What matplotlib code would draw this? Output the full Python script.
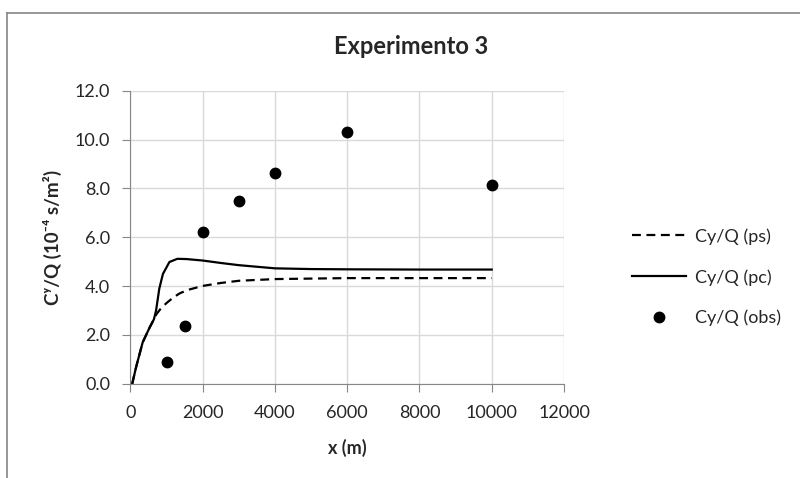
"""Experimento 3: Cy/Q ratio along the downwind distance."""

import matplotlib

matplotlib.use("Agg")
import matplotlib.pyplot as plt
from matplotlib.lines import Line2D

x_pc = [50, 160, 340, 530, 650, 710, 800, 900, 1080, 1300, 1550, 2000,
        2500, 3000, 4000, 5000, 6000, 8000, 10000]
y_pc = [0.0, 0.7, 1.7, 2.3, 2.64, 3.0, 3.9, 4.5, 4.99, 5.12, 5.11, 5.05,
        4.95, 4.86, 4.73, 4.70, 4.69, 4.68, 4.68]

x_ps = [50, 160, 340, 530, 650, 720, 850, 1000, 1200, 1370, 1600, 2000,
        2500, 3000, 4000, 5000, 6000, 8000, 10000]
y_ps = [0.0, 0.7, 1.7, 2.3, 2.64, 2.85, 3.1, 3.31, 3.55, 3.71, 3.85, 4.01,
        4.13, 4.22, 4.29, 4.31, 4.33, 4.33, 4.33]

x_obs = [1000, 1500, 2000, 3000, 4000, 6000, 10000]
y_obs = [0.9, 2.35, 6.2, 7.5, 8.65, 10.3, 8.15]

x_ticks = [0, 2000, 4000, 6000, 8000, 10000, 12000]
y_ticks = [0.0, 2.0, 4.0, 6.0, 8.0, 10.0, 12.0]

plt.rcParams["font.family"] = ["Lato", "DejaVu Sans"]
GRID = "#d9d9d9"
AXIS = "#868686"
TEXT = "#262626"
FS = 13

fig = plt.figure(figsize=(8, 4.78), dpi=100)
ax = fig.add_axes([0.163, 0.197, 0.542, 0.613])

ax.plot(x_ps, y_ps, color="black", lw=1.6, ls=(0, (4, 2.5)), label="Cy/Q (ps)")
ax.plot(x_pc, y_pc, color="black", lw=1.6, label="Cy/Q (pc)")
ax.plot(x_obs, y_obs, "o", color="black", ms=7.5, ls="none",
        label="Cy/Q (obs)")

ax.set_xlim(0, 12000)
ax.set_ylim(0, 12)
ax.set_xticks(x_ticks)
ax.set_yticks(y_ticks)
ax.set_yticklabels([f"{v:.1f}" for v in y_ticks])
ax.grid(True, color=GRID, lw=1)
ax.set_axisbelow(True)
for side in ("top", "right"):
    ax.spines[side].set_visible(False)
for side in ("left", "bottom"):
    ax.spines[side].set_color(AXIS)
ax.tick_params(colors=AXIS, labelcolor=TEXT, labelsize=FS,
               length=5.5, direction="out", pad=9)
ax.tick_params(axis="x", pad=10)

ax.set_xlabel("x (m)", fontsize=FS, fontweight="bold", color=TEXT,
              va="center")
ax.xaxis.set_label_coords(0.5, -0.218)
ax.set_ylabel("Cʸ/Q (10⁻⁴ s/m²)", fontsize=13.5, fontweight="bold",
              color=TEXT, va="center")
ax.yaxis.set_label_coords(-0.179, 0.5)

fig.text(0.514, 0.902, "Experimento 3", ha="center", va="center",
         fontsize=17, fontweight="bold", color=TEXT)

ax.legend(loc="center left", bbox_to_anchor=(0.77, 0.42),
          bbox_transform=fig.transFigure, frameon=False, fontsize=FS,
          handlelength=3.0, labelspacing=1.35, handletextpad=0.45,
          labelcolor=TEXT)

# chart-area border (top and left edges visible in the reference)
fig.add_artist(Line2D([7 / 800, 7 / 800], [0, 1 - 13 / 478],
                      transform=fig.transFigure, color=AXIS, lw=1.2))
fig.add_artist(Line2D([7 / 800, 1], [1 - 13 / 478, 1 - 13 / 478],
                      transform=fig.transFigure, color=AXIS, lw=1.2))

fig.savefig("out.png", dpi=100)
